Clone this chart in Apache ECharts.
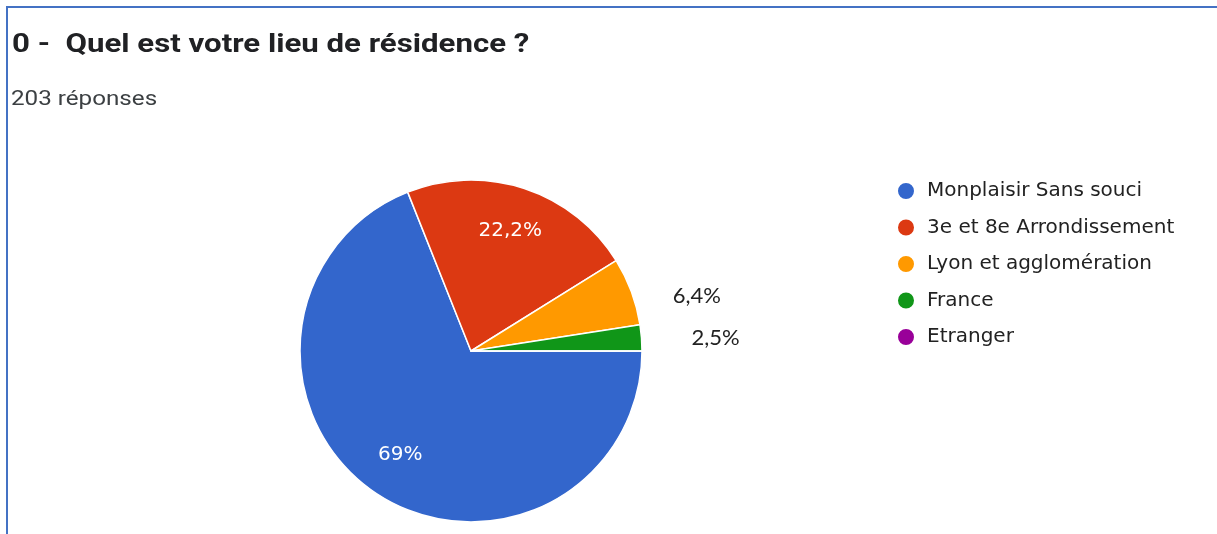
<!DOCTYPE html>
<html>
<head>
<meta charset="utf-8">
<script src="https://cdn.jsdelivr.net/npm/echarts@6/dist/echarts.min.js"></script>
<style>
  html, body { margin: 0; padding: 0; background: #fff; }
  #frame {
    position: absolute; left: 6px; top: 6px; width: 1211px; height: 528px;
    border-top: 2px solid #4472c4; border-left: 2px solid #4472c4;
  }
  #chart { position: absolute; left: 0; top: 0; width: 1217px; height: 534px; }
</style>
</head>
<body>
<div id="frame"></div>
<div id="chart"></div>
<script>
// réponses par lieu de résidence (203 au total)
const categories = ['Monplaisir Sans souci', '3e et 8e Arrondissement', 'Lyon et agglomération', 'France', 'Etranger']
const counts = [140, 45, 13, 5, 0]
const colors = ['#3366cc', '#dc3912', '#ff9900', '#109618', '#990099']
const titleText = '0 -  Quel est votre lieu de résidence ?'
const subtitleText = '203 réponses'
const total = counts.reduce((a, b) => a + b, 0)

const fmtPct = (p) => {
  let s = (Math.round(p * 10) / 10).toFixed(1)
  if (s.endsWith('.0')) s = s.slice(0, -2)
  return s.replace('.', ',') + '%'
}

const chart = echarts.init(document.getElementById('chart'))

const mainData = categories.map((name, i) => ({
  name,
  value: counts[i],
  itemStyle: { color: colors[i] },
  label: { show: i === 2 || i === 3 }
}))

// série fantôme : sert uniquement à placer les libellés intérieurs plus loin du centre
const ghostData = categories.map((name, i) => ({
  name,
  value: counts[i],
  itemStyle: { color: 'rgba(0,0,0,0)' },
  label: { show: i === 0 || i === 1 }
}))

chart.setOption({
  animation: false,
  // le texte de la capture est un peu étiré horizontalement
  graphic: [{
    type: 'text',
    x: 12, y: 45,
    scaleX: 1.2,
    style: {
      text: titleText,
      fontFamily: 'Roboto', fontSize: 26, fontWeight: 'bold',
      fill: '#202124', verticalAlign: 'middle'
    }
  }, {
    type: 'text',
    x: 11, y: 100,
    scaleX: 1.21,
    style: {
      text: subtitleText,
      fontFamily: 'Roboto', fontSize: 20,
      fill: '#3c4043', verticalAlign: 'middle'
    }
  }],
  legend: {
    orient: 'vertical',
    left: 891, top: 176,
    icon: 'circle',
    itemWidth: 18, itemHeight: 18,
    itemGap: 16.5,
    selectedMode: false,
    data: categories,
    textStyle: { fontFamily: 'DejaVu Sans', fontSize: 20, color: '#222222', padding: [0, 0, 0, 7] }
  },
  series: [{
    type: 'pie',
    center: [471, 351],
    radius: [0, 171],
    startAngle: 0,
    clockwise: true,
    minAngle: 0,
    avoidLabelOverlap: false,
    itemStyle: { borderColor: '#ffffff', borderWidth: 1.5 },
    label: {
      position: 'outside',
      fontFamily: 'Lato, Open Sans',
      fontSize: 22,
      color: '#222222',
      formatter: (p) => fmtPct(counts[p.dataIndex] / total * 100)
    },
    labelLine: { show: false, length: 8, length2: 30 },
    labelLayout: (p) => {
      if (p.dataIndex === 2) return { dx: -1, dy: 7 }
      if (p.dataIndex === 3) return { dx: 7, dy: 1 }
      return {}
    },
    emphasis: { disabled: true },
    data: mainData
  }, {
    type: 'pie',
    center: [471, 351],
    radius: [0, 246],
    startAngle: 0,
    clockwise: true,
    silent: true,
    legendHoverLink: false,
    itemStyle: { borderWidth: 0 },
    label: {
      position: 'inside',
      fontFamily: 'DejaVu Sans',
      fontSize: 20,
      color: '#ffffff',
      formatter: (p) => fmtPct(counts[p.dataIndex] / total * 100)
    },
    labelLine: { show: false },
    emphasis: { disabled: true },
    data: ghostData,
    z: 3
  }]
})
</script>
</body>
</html>
